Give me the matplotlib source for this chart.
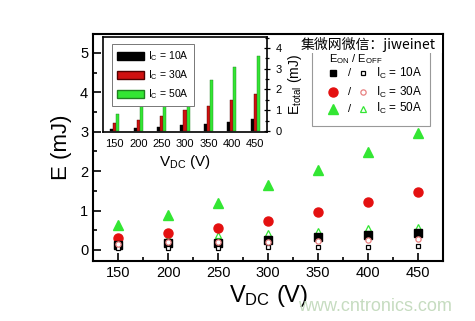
import matplotlib
matplotlib.use('Agg')
import matplotlib.pyplot as plt
from matplotlib.patches import Patch, Rectangle
from matplotlib.ticker import MultipleLocator

plt.rcParams['font.family'] = ['Liberation Sans', 'Noto Sans CJK SC', 'DejaVu Sans']
plt.rcParams['mathtext.fontset'] = 'custom'
plt.rcParams['mathtext.rm'] = 'Liberation Sans'
plt.rcParams['mathtext.it'] = 'Liberation Sans'

# DC link voltage (V)
vdc = [150, 200, 250, 300, 350, 400, 450]

# turn-on energies (mJ)
eon_10 = [0.13, 0.17, 0.17, 0.24, 0.34, 0.38, 0.44]
eon_30 = [0.30, 0.42, 0.55, 0.74, 0.96, 1.21, 1.46]
eon_50 = [0.63, 0.89, 1.19, 1.65, 2.03, 2.49, 2.98]

# turn-off energies (mJ)
eoff_10 = [0.06, 0.06, 0.06, 0.08, 0.07, 0.07, 0.10]
eoff_30 = [0.15, 0.19, 0.20, 0.19, 0.23, 0.25, 0.28]
eoff_50 = [0.25, 0.30, 0.38, 0.42, 0.47, 0.55, 0.58]

# total energies for the inset (mJ)
etot_10 = [0.10, 0.13, 0.20, 0.28, 0.34, 0.44, 0.55]
etot_30 = [0.36, 0.54, 0.72, 0.99, 1.20, 1.50, 1.76]
etot_50 = [0.83, 1.19, 1.54, 2.05, 2.47, 3.06, 3.59]

labels = ['$\\mathregular{I_C}$ = 10A', '$\\mathregular{I_C}$ = 30A',
          '$\\mathregular{I_C}$ = 50A']

RED = '#e41010'
GREEN = '#33e633'
PINK = '#e88080'

fig = plt.figure(figsize=(4.75, 3.21), dpi=100)
ax = fig.add_axes([0.196, 0.187, 0.737, 0.707])

# E_on filled, E_off open
ax.plot(vdc, eon_10, 's', color='black', ms=5.5, zorder=4)
ax.plot(vdc, eon_30, 'o', color=RED, ms=6.5, zorder=3)
ax.plot(vdc, eon_50, '^', color=GREEN, ms=7, zorder=3)
ax.plot(vdc, eoff_10, 's', mfc='white', mec='black', mew=0.9, ms=3.5, zorder=5)
ax.plot(vdc, eoff_30, 'o', mfc='white', mec=PINK, mew=0.9, ms=3.8, zorder=5)
ax.plot(vdc, eoff_50, '^', mfc='white', mec=GREEN, mew=0.9, ms=4.5, zorder=2)

ax.set_xlim(125, 475)
ax.set_ylim(-0.28, 5.48)
ax.set_xticks(vdc)
ax.xaxis.set_minor_locator(MultipleLocator(25))
ax.yaxis.set_major_locator(MultipleLocator(1))
ax.yaxis.set_minor_locator(MultipleLocator(0.5))
ax.tick_params(which='both', direction='in', top=False, right=False,
               labelsize=10.5, width=1.2)
ax.tick_params(which='major', length=6)
ax.tick_params(which='minor', length=3)
for s in ax.spines.values():
    s.set_linewidth(1.5)
ax.set_xlabel('$\\mathregular{V_{DC}}$ (V)', fontsize=17, labelpad=2)
ax.set_ylabel('E (mJ)', fontsize=16, labelpad=6)

# manual legend with filled / open markers
ax.add_patch(Rectangle((0.626, 0.595), 0.337, 0.34, transform=ax.transAxes,
                       fill=False, ec='#999999', lw=0.8, zorder=6))
ax.text(0.749, 0.888, '$\\mathregular{E_{ON}}$ / $\\mathregular{E_{OFF}}$',
        transform=ax.transAxes, ha='center', va='center', fontsize=8, zorder=7)
rows = [0.828, 0.744, 0.670]
styles = [('s', 'black', 'black', 5, 3.5), ('o', RED, PINK, 6.5, 3.8),
          ('^', GREEN, GREEN, 7, 4.5)]
for yy, (m, cf, co, sf, so), lab in zip(rows, styles, labels):
    ax.plot([0.686], [yy], m, color=cf, ms=sf, transform=ax.transAxes,
            clip_on=False, zorder=7)
    ax.text(0.734, yy, '/', transform=ax.transAxes, ha='center', va='center',
            fontsize=8, zorder=7)
    ax.plot([0.771], [yy], m, mfc='white', mec=co, mew=0.9, ms=so,
            transform=ax.transAxes, clip_on=False, zorder=7)
    ax.text(0.808, yy, lab, transform=ax.transAxes, ha='left', va='center',
            fontsize=8.5, zorder=7)

# watermark box over the legend title
ax.add_patch(Rectangle((0.597, 0.915), 0.4, 0.08, transform=ax.transAxes,
                       fc='white', ec='none', zorder=8))
ax.text(0.785, 0.955, '集微网微信：jiweinet', transform=ax.transAxes,
        ha='center', va='center', fontsize=10, zorder=9,
        family=['Noto Sans CJK SC', 'DejaVu Sans'])

# inset with total energies
ins = fig.add_axes([0.217, 0.589, 0.345, 0.296])
w = 6.6
ins.bar([v - w for v in vdc], etot_10, w, color='black', ec='black', lw=0.3)
ins.bar(vdc, etot_30, w, color='#d01010', ec='#500000', lw=0.3)
ins.bar([v + w for v in vdc], etot_50, w, color=GREEN, ec='#208020', lw=0.3)
ins.set_xlim(125, 475)
ins.set_ylim(-0.05, 4.53)
ins.set_xticks(vdc)
ins.yaxis.set_major_locator(MultipleLocator(1))
ins.yaxis.set_minor_locator(MultipleLocator(0.5))
ins.yaxis.tick_right()
ins.yaxis.set_label_position('right')
ins.tick_params(axis='x', length=0, labelsize=8, pad=5)
ins.tick_params(axis='y', which='both', direction='inout', left=False,
                labelsize=8, width=0.9)
ins.tick_params(axis='y', which='major', length=5)
ins.tick_params(axis='y', which='minor', length=3)
for s in ins.spines.values():
    s.set_linewidth(1.2)
ins.set_xlabel('$\\mathregular{V_{DC}}$ (V)', fontsize=11, labelpad=3)
ins.set_ylabel('$\\mathregular{E_{total}}$ (mJ)', fontsize=10, labelpad=3)
handles = [Patch(fc='black', ec='black'), Patch(fc='#d01010', ec='#500000'),
           Patch(fc=GREEN, ec='#208020')]
leg = ins.legend(handles, labels, loc='upper left', fontsize=7.5,
                 fancybox=False, framealpha=1, edgecolor='#777777',
                 handlelength=2.6, handleheight=0.8, borderpad=0.5,
                 labelspacing=0.5, handletextpad=0.4,
                 bbox_to_anchor=(0.02, 0.98))
leg.get_frame().set_linewidth(0.7)

fig.text(0.79, 0.045, 'www.cntronics.com', color='#c6dcc0', fontsize=13,
         ha='center', va='center')

fig.savefig('out.png', dpi=100)
